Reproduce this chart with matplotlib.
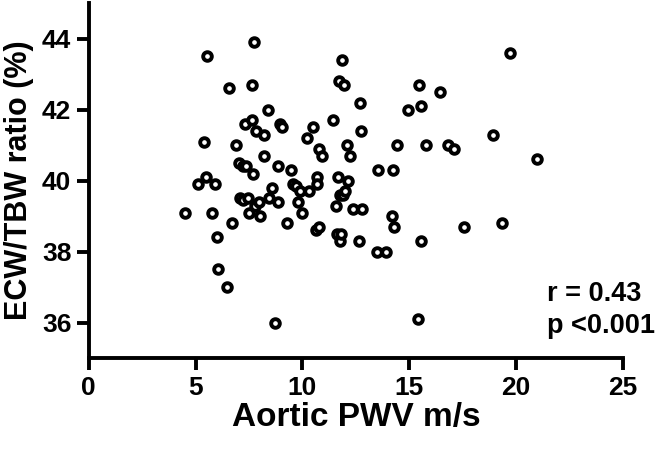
import matplotlib
matplotlib.use("Agg")
import matplotlib.pyplot as plt

# Aortic PWV (m/s) vs ECW/TBW ratio (%)
pwv = [4.5, 5.1, 5.4, 5.55, 5.5, 5.75, 5.9, 6.0, 6.05, 6.45, 6.55, 6.7, 6.9,
       7.05, 7.2, 7.35, 7.1, 7.2, 7.3, 7.45, 7.5, 7.65, 7.65, 7.7, 7.75, 7.8,
       7.85, 7.95, 8.0, 8.2, 8.2, 8.4, 8.45, 8.6, 8.7, 8.85, 8.85, 8.95, 9.05,
       9.3, 9.45, 9.55, 9.7, 9.8, 9.9, 10.0, 10.2, 10.3, 10.5, 10.7, 10.7,
       10.65, 10.8, 10.8, 10.9, 11.45, 11.55, 11.6, 11.65, 11.7, 11.75, 11.75,
       11.8, 11.85, 11.95, 11.9, 12.0, 12.1, 12.15, 12.25, 12.35, 12.65, 12.7,
       12.75, 12.8, 13.55, 13.5, 13.9, 14.2, 14.25, 14.3, 14.45, 14.95, 15.4,
       15.45, 15.55, 15.55, 15.8, 16.45, 16.8, 17.1, 17.55, 18.9, 19.35,
       19.7, 21.0]
ecw_tbw = [39.1, 39.9, 41.1, 43.5, 40.1, 39.1, 39.9, 38.4, 37.5, 37.0, 42.6,
           38.8, 41.0, 40.5, 40.4, 40.4, 39.5, 39.45, 41.6, 39.5, 39.1, 41.7,
           42.7, 40.2, 43.9, 39.3, 41.4, 39.4, 39.0, 41.3, 40.7, 42.0, 39.5,
           39.8, 36.0, 40.4, 39.4, 41.6, 41.5, 38.8, 40.3, 39.9, 39.85, 39.4,
           39.7, 39.1, 41.2, 39.7, 41.5, 40.1, 39.9, 38.6, 38.7, 40.9, 40.7,
           41.7, 39.3, 38.5, 40.1, 42.8, 39.6, 38.3, 38.5, 43.4, 42.7, 39.6,
           39.7, 41.0, 40.0, 40.7, 39.2, 38.3, 42.2, 41.4, 39.2, 40.3, 38.0,
           38.0, 39.0, 40.3, 38.7, 41.0, 42.0, 36.1, 42.7, 42.1, 38.3, 41.0,
           42.5, 41.0, 40.9, 38.7, 41.3, 38.8, 43.6, 40.6]

x_ticks = [0, 5, 10, 15, 20, 25]
y_ticks = [36, 38, 40, 42, 44]

plt.rcParams["font.family"] = ["Liberation Sans", "DejaVu Sans"]
plt.rcParams["font.weight"] = "bold"

fig = plt.figure(figsize=(6.62, 4.5), dpi=100)
ax = fig.add_axes([0.134, 0.204, 0.807, 0.789])

ax.plot(pwv, ecw_tbw, "o", ls="none", mfc="white", mec="black",
        ms=6.2, mew=2.8, clip_on=False)

ax.set_xlim(0, 25)
ax.set_ylim(35, 45)
ax.set_xticks(x_ticks)
ax.set_yticks(y_ticks)
ax.tick_params(axis="both", labelsize=19, width=2.8, length=8.5, pad=4)
for lab in ax.get_xticklabels() + ax.get_yticklabels():
    lab.set_fontweight("bold")

for side in ("top", "right"):
    ax.spines[side].set_visible(False)
for side in ("left", "bottom"):
    ax.spines[side].set_linewidth(2.8)

ax.set_xlabel("Aortic PWV m/s", fontsize=24, fontweight="bold", labelpad=2)
ax.set_ylabel("ECW/TBW ratio (%)", fontsize=22, fontweight="bold", labelpad=6)

ax.text(21.45, 36.82, "r = 0.43", fontsize=19.5, fontweight="bold",
        ha="left", va="center", clip_on=False)
ax.text(21.45, 35.9, "p <0.001", fontsize=19.5, fontweight="bold",
        ha="left", va="center", clip_on=False)

fig.savefig("out.png", dpi=100)
